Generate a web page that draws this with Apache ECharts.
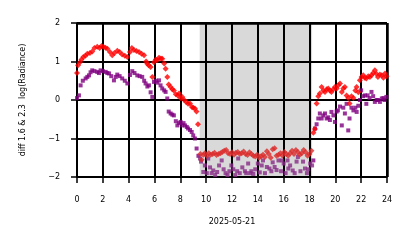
<!DOCTYPE html>
<html><head><meta charset="utf-8">
<script src="https://cdn.jsdelivr.net/npm/echarts@6/dist/echarts.min.js"></script>
<style>html,body{margin:0;padding:0;background:#fff}#c{width:414px;height:248px}</style>
</head><body><div id="c"></div>
<script>
const xTicks = [0,2,4,6,8,10,12,14,16,18,20,22,24];
const yTicks = [-2,-1,0,1,2];
const dateLabel = '2025-05-21';
const yLabel = 'diff 1.6 & 2.3  log(Radiance)';
const nightStart = 9.5, nightEnd = 18.2;

const redT = [0.0,0.08,0.23,0.35,0.49,0.65,0.8,1.0,1.18,1.35,1.57,1.75,1.9,2.04,2.2,2.35,2.55,2.73,2.9,3.12,3.3,3.5,3.7,3.9,4.1,4.25,4.41,4.6,4.8,5.0,5.19,5.35,5.44,5.55,5.7,5.83,5.95,6.1,6.2,6.35,6.5,6.6,6.75,6.86,6.99,7.1,7.25,7.38,7.5,7.65,7.8,7.9,8.02,8.15,8.3,8.45,8.6,8.75,8.9,9.0,9.13,9.25,9.37,
9.55,9.65,9.78,9.9,10.05,10.2,10.35,10.5,10.65,10.8,10.95,11.1,11.25,11.4,11.55,11.7,11.85,12.0,12.15,12.3,12.45,12.6,12.75,12.9,13.05,13.2,13.35,13.5,13.65,13.8,13.95,14.1,14.25,14.4,14.55,14.7,14.85,15.0,15.15,15.3,15.45,15.6,15.75,15.9,16.05,16.2,16.35,16.5,16.65,16.8,16.95,17.1,17.25,17.4,17.55,17.7,17.85,18.0,18.15,
18.3,18.42,18.55,18.68,18.8,18.94,19.07,19.2,19.33,19.45,19.58,19.7,19.85,19.97,20.1,20.23,20.36,20.5,20.62,20.74,20.87,21.0,21.1,21.25,21.4,21.55,21.65,21.78,21.9,22.03,22.16,22.28,22.4,22.55,22.68,22.8,22.93,23.06,23.18,23.3,23.45,23.6,23.72,23.85,23.95];
const redV = [0.7,0.9,0.98,1.05,1.12,1.15,1.2,1.22,1.26,1.35,1.38,1.35,1.4,1.38,1.36,1.33,1.25,1.16,1.22,1.28,1.25,1.18,1.15,1.12,1.25,1.35,1.3,1.27,1.25,1.2,1.16,1.0,0.94,0.9,0.86,0.6,0.98,1.05,1.03,1.1,1.08,1.07,0.95,0.81,0.6,0.4,0.34,0.28,0.25,0.15,0.12,0.17,0.05,0.08,0.0,-0.05,-0.1,-0.09,-0.18,-0.2,-0.22,-0.3,-0.63,
-1.4,-1.55,-1.42,-1.38,-1.45,-1.38,-1.42,-1.4,-1.37,-1.43,-1.4,-1.38,-1.35,-1.32,-1.3,-1.38,-1.4,-1.36,-1.42,-1.37,-1.35,-1.4,-1.38,-1.34,-1.4,-1.43,-1.36,-1.4,-1.45,-1.47,-1.42,-1.5,-1.46,-1.42,-1.48,-1.33,-1.4,-1.5,-1.28,-1.25,-1.45,-1.42,-1.38,-1.44,-1.35,-1.4,-1.45,-1.38,-1.32,-1.4,-1.3,-1.35,-1.42,-1.38,-1.3,-1.36,-1.45,-1.4,-1.32,
-0.85,-0.75,-0.09,0.1,0.17,0.34,0.25,0.21,0.28,0.3,0.25,0.21,0.28,0.34,0.3,0.38,0.43,0.21,0.3,0.34,0.12,0.05,-0.09,0.1,0.05,0.25,0.34,0.2,0.51,0.6,0.64,0.58,0.56,0.62,0.6,0.64,0.7,0.77,0.68,0.6,0.66,0.64,0.58,0.69,0.62];

const purT = [0.0,0.15,0.28,0.45,0.67,0.8,0.93,1.05,1.18,1.35,1.57,1.7,1.83,2.0,2.22,2.35,2.48,2.65,2.86,3.0,3.12,3.3,3.5,3.7,3.9,4.1,4.28,4.45,4.67,4.85,5.05,5.2,5.31,5.45,5.57,5.7,5.83,5.96,6.1,6.22,6.35,6.47,6.6,6.75,6.86,6.99,7.1,7.25,7.38,7.5,7.65,7.77,7.9,8.02,8.15,8.25,8.36,8.5,8.6,8.75,8.88,9.0,9.13,9.26,9.4,9.52,9.6,
9.78,9.9,10.05,10.16,10.3,10.42,10.55,10.7,10.85,11.0,11.2,11.35,11.5,11.65,11.8,11.95,12.1,12.25,12.4,12.48,12.6,12.8,13.0,13.1,13.25,13.4,13.5,13.65,13.8,14.0,14.15,14.3,14.4,14.55,14.7,14.9,15.05,15.15,15.3,15.45,15.6,15.8,15.85,16.0,16.15,16.3,16.36,16.5,16.7,16.85,17.0,17.1,17.3,17.5,17.65,17.8,17.9,18.05,18.2,18.3,
18.42,18.55,18.68,18.8,18.94,19.07,19.2,19.33,19.45,19.58,19.7,19.85,19.97,20.1,20.2,20.36,20.5,20.62,20.74,20.87,21.0,21.1,21.25,21.4,21.55,21.65,21.78,21.9,22.0,22.15,22.3,22.4,22.5,22.65,22.8,22.93,23.06,23.2,23.3,23.45,23.6,23.72,23.8,23.95];
const purV = [0.05,0.12,0.38,0.5,0.56,0.6,0.64,0.72,0.77,0.75,0.73,0.7,0.77,0.75,0.73,0.7,0.69,0.62,0.51,0.6,0.66,0.62,0.56,0.5,0.43,0.65,0.75,0.7,0.64,0.62,0.6,0.5,0.43,0.35,0.38,0.2,0.08,0.47,0.5,0.45,0.51,0.38,0.3,0.25,0.21,0.04,-0.3,-0.35,-0.38,-0.4,-0.55,-0.66,-0.6,-0.57,-0.66,-0.6,-0.66,-0.7,-0.74,-0.78,-0.83,-0.92,-1.0,-1.26,-1.45,-1.52,-1.6,
-1.87,-1.7,-1.9,-1.52,-1.75,-1.9,-1.83,-1.95,-1.87,-1.7,-1.57,-1.8,-1.9,-1.95,-1.85,-1.7,-1.8,-1.95,-1.85,-1.52,-1.9,-1.75,-1.85,-1.9,-1.65,-1.9,-1.85,-1.92,-1.8,-1.65,-1.88,-1.7,-1.57,-1.9,-1.74,-1.78,-1.85,-1.62,-1.74,-1.82,-1.57,-1.85,-1.57,-1.65,-1.9,-1.57,-1.78,-1.7,-1.83,-1.9,-1.6,-1.48,-1.85,-1.6,-1.78,-1.9,-1.8,-1.65,-1.7,-1.57,
-0.74,-0.63,-0.48,-0.35,-0.48,-0.4,-0.35,-0.48,-0.45,-0.52,-0.31,-0.4,-0.57,-0.3,-0.27,-0.17,-0.66,-0.2,-0.35,-0.1,-0.79,-0.48,-0.2,-0.27,-0.2,-0.31,-0.15,0.0,0.25,0.1,0.12,-0.1,0.12,0.05,0.21,0.1,-0.05,0.0,0.0,-0.05,0.04,0.05,0.0,0.08];

const isNight = t => t >= nightStart && t <= nightEnd;
const redData = redT.map((t,i)=>[t, redV[i]]);
const purData = purT.map((t,i)=>[t, purV[i]]);
const fmt = v => String(v).replace('-', '\u2212');
const font = 'DejaVu Sans';
const blackLine = {color: '#000', width: 2, type: 'solid', opacity: 1};

const chart = echarts.init(document.getElementById('c'), null, {renderer:'canvas'});
chart.setOption({
  animation: false,
  backgroundColor: '#fff',
  textStyle: {fontFamily: font},
  grid: {left: 77, right: 27, top: 23, bottom: 71, containLabel: false},
  xAxis: {
    type: 'value', min: 0, max: 24, interval: 2, z: 5,
    name: dateLabel, nameLocation: 'middle', nameGap: 41,
    nameTextStyle: {fontFamily: font, fontSize: 8, color: '#000'},
    axisLine: {show: true, onZero: false, lineStyle: {color: '#000', width: 1.5}},
    axisTick: {show: true, length: 6, lineStyle: {color: '#000', width: 1.5}},
    axisLabel: {fontFamily: font, fontSize: 8, color: '#000', margin: 19, formatter: fmt},
    splitLine: {show: true, showMaxLine: true, lineStyle: blackLine}
  },
  yAxis: {
    type: 'value', min: -2, max: 2, interval: 1, z: 5,
    name: yLabel, nameLocation: 'middle', nameGap: 50, nameRotate: 90,
    nameTextStyle: {fontFamily: font, fontSize: 8, color: '#000'},
    axisLine: {show: true, onZero: false, lineStyle: {color: '#000', width: 1.5}},
    axisTick: {show: true, length: 6, lineStyle: {color: '#000', width: 1.5}},
    axisLabel: {fontFamily: font, fontSize: 8, color: '#000', margin: 17, formatter: fmt},
    splitLine: {show: true, showMaxLine: true, lineStyle: blackLine}
  },
  series: [
    {
      type: 'scatter', data: [], z: 6, silent: true, clip: false,
      markArea: {silent: true, itemStyle: {color: '#d9d9d9'},
        data: [[{xAxis: nightStart}, {xAxis: nightEnd}]]},
      markLine: {silent: true, symbol: ['none','none'], label: {show: false},
        lineStyle: {color: '#000', width: 2.5, type: 'solid', opacity: 1},
        data: [
          [{coord: [xTicks[0], yTicks[yTicks.length-1]]}, {coord: [xTicks[xTicks.length-1], yTicks[yTicks.length-1]]}],
          [{coord: [xTicks[xTicks.length-1], yTicks[0]]}, {coord: [xTicks[xTicks.length-1], yTicks[yTicks.length-1]]}]
        ]}
    },
    {
      type: 'scatter', data: purData, symbol: 'rect', symbolSize: 4, z: 10,
      itemStyle: {color: p => isNight(p.value[0]) ? '#862b86' : '#800080'}
    },
    {
      type: 'scatter', data: redData, symbol: 'diamond', symbolSize: 6, z: 11,
      itemStyle: {color: p => isNight(p.value[0]) ? '#dc2a2a' : '#ff0000'}
    }
  ]
});
</script></body></html>
